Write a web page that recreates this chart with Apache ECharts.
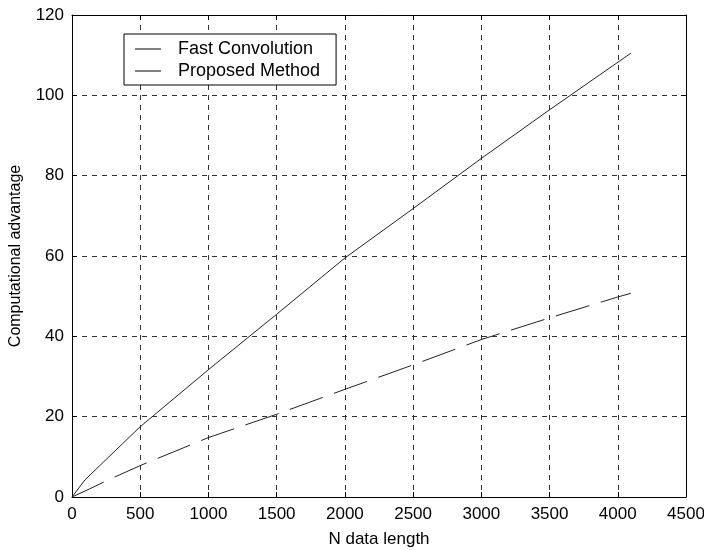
<!DOCTYPE html>
<html>
<head>
<meta charset="utf-8">
<script src="https://cdn.jsdelivr.net/npm/echarts@6/dist/echarts.min.js"></script>
<style>html,body{margin:0;padding:0;background:#fff;}#chart{width:704px;height:550px;}</style>
</head>
<body>
<div id="chart"></div>
<script>
const seriesNames = ['Fast Convolution', 'Proposed Method'];
const fastConvN = [0, 128, 256, 512, 1000, 1500, 2000, 2500, 3000, 3500, 4000, 4096];
const fastConvY = [0, 2.0, 4.1, 8.0, 14.8, 20.6, 26.8, 32.9, 39.2, 44.6, 49.8, 50.7];
const proposedN = [0, 96, 500, 1000, 1500, 2000, 2500, 3000, 3500, 4096];
const proposedY = [0, 4.3, 17.5, 31.7, 45.5, 59.5, 71.8, 84.3, 96.4, 110.5];
const xTicks = { min: 0, max: 4500, interval: 500 };
const yTicks = { min: 0, max: 120, interval: 20 };
const xName = 'N data length';
const yName = 'Computational advantage';

const font = 'Liberation Sans, Arial, Helvetica, sans-serif';
const chart = echarts.init(document.getElementById('chart'));
const gridLine = { show: true, lineStyle: { color: '#333', width: 1, type: [5, 5] } };
const axisLine = { show: true, onZero: false, lineStyle: { color: '#000', width: 1 } };
const tick = { show: true, inside: true, length: 5, lineStyle: { color: '#000' } };
const label = { color: '#000', fontSize: 17, fontFamily: font, formatter: v => String(v) };

chart.setOption({
  animation: false,
  backgroundColor: '#fff',
  grid: { left: 72, right: 18, top: 15, bottom: 53, containLabel: false, outerBoundsMode: 'none' },
  legend: {
    orient: 'vertical', left: 124, top: 34,
    padding: [6, 16, 5, 11], itemGap: 4,
    itemWidth: 26, itemHeight: 1,
    icon: 'rect',
    borderColor: '#000', borderWidth: 1, backgroundColor: '#fff',
    itemStyle: { color: '#000' },
    textStyle: { color: '#000', fontSize: 18, fontFamily: font, padding: [0, 0, 0, 12] },
    data: seriesNames
  },
  xAxis: [
    { type: 'value', min: xTicks.min, max: xTicks.max, interval: xTicks.interval,
      name: xName, nameLocation: 'middle', nameGap: 34,
      nameTextStyle: { color: '#000', fontSize: 17, fontFamily: font },
      axisLine, axisTick: tick, axisLabel: { ...label, margin: 9 }, splitLine: gridLine },
    { type: 'value', position: 'top', min: xTicks.min, max: xTicks.max, interval: xTicks.interval,
      axisLine, axisTick: tick, axisLabel: { show: false }, splitLine: { show: false } }
  ],
  yAxis: [
    { type: 'value', min: yTicks.min, max: yTicks.max, interval: yTicks.interval,
      name: yName, nameLocation: 'middle', nameGap: 48,
      nameTextStyle: { color: '#000', fontSize: 16, fontFamily: font },
      axisLine, axisTick: tick, axisLabel: { ...label, margin: 8 }, splitLine: gridLine },
    { type: 'value', position: 'right', min: yTicks.min, max: yTicks.max, interval: yTicks.interval,
      axisLine, axisTick: tick, axisLabel: { show: false }, splitLine: { show: false } }
  ],
  series: [
    { name: seriesNames[0], type: 'line', symbol: 'none', z: 5,
      data: fastConvN.map((n, i) => [n, fastConvY[i]]),
      itemStyle: { color: '#222' },
      lineStyle: { color: '#222', width: 1, type: [35, 12] } },
    { name: seriesNames[1], type: 'line', symbol: 'none', z: 5,
      data: proposedN.map((n, i) => [n, proposedY[i]]),
      itemStyle: { color: '#222' },
      lineStyle: { color: '#222', width: 1, type: 'solid' } }
  ]
});
</script>
</body>
</html>
